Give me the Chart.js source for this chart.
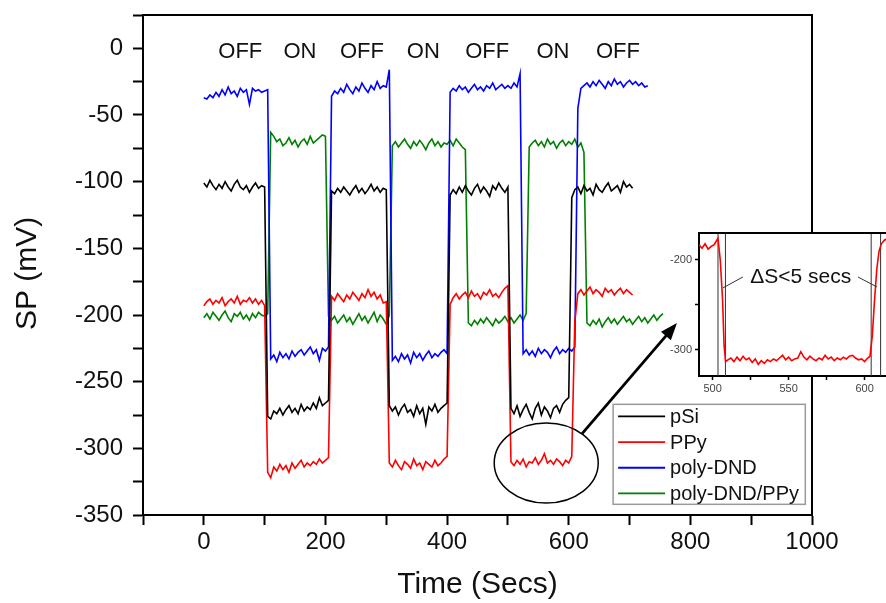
<!DOCTYPE html>
<html>
<head>
<meta charset="utf-8">
<script src="https://cdn.jsdelivr.net/npm/chart.js@4.4.1/dist/chart.umd.min.js"></script>
<style>
  html, body { margin: 0; padding: 0; background: #fff; overflow: hidden; }
  #wrap { position: relative; width: 886px; height: 603px; overflow: hidden; }
  #main { position: absolute; left: 0; top: 0; }
  #inset { position: absolute; left: 650px; top: 225px; }
</style>
</head>
<body>
<div id="wrap">
  <canvas id="main" width="886" height="603"></canvas>
  <canvas id="inset" width="242" height="175"></canvas>
</div>
<script>
const FONT = '"Liberation Sans", Arial, sans-serif'

// sampling times (s), one row per 100 s
const secs = [
  0, 5, 10, 15, 20, 25, 30, 35, 40, 45, 50, 55, 60, 65, 70, 75, 80, 85, 90, 95,
  100, 105, 110, 115, 120, 125, 130, 135, 140, 145, 150, 155, 160, 165, 170, 175, 180, 185, 190, 195,
  200, 205, 210, 215, 220, 225, 230, 235, 240, 245, 250, 255, 260, 265, 270, 275, 280, 285, 290, 295,
  300, 305, 310, 315, 320, 325, 330, 335, 340, 345, 350, 355, 360, 365, 370, 375, 380, 385, 390, 395,
  400, 405, 410, 415, 420, 425, 430, 435, 440, 445, 450, 455, 460, 465, 470, 475, 480, 485, 490, 495,
  500, 505, 510, 515, 520, 525, 530, 535, 540, 545, 550, 555, 560, 565, 570, 575, 580, 585, 590, 595,
  600, 605, 610, 615, 620, 625, 630, 635, 640, 645, 650, 655, 660, 665, 670, 675, 680, 685, 690, 695,
  700, 705, 710, 715, 720, 725, 730, 735, 740, 745, 750, 755
]

const pSi = [
  -101, -104, -99, -103, -106, -102, -105, -100, -104, -107, -102, -99, -104, -106, -103, -108, -104, -101, -105, -103,
  -104, -276, -278, -272, -274, -270, -275, -271, -268, -273, -270, -274, -267, -272, -269, -271, -266, -270, -262, -268,
  -266, -264, -107, -109, -105, -108, -104, -107, -110, -106, -103, -108, -105, -109, -106, -102, -107, -104, -108, -105,
  -106, -268, -272, -269, -275, -270, -267, -273, -271, -276, -268, -274, -270, -282, -269, -272, -267, -273, -270, -268,
  -266, -110, -106, -109, -104, -108, -103, -107, -110, -105, -102, -108, -104, -107, -111, -103, -106, -101, -105, -108,
  -104, -270, -274, -268, -276, -271, -267, -273, -278, -270, -266, -275, -269, -272, -277, -270, -268, -273, -267, -264,
  -262, -112, -106, -104, -109, -103, -107, -105, -110, -102, -106, -108, -104, -101, -107, -105, -103, -108, -100, -104,
  -102, -105, null, null, null, null, null, null, null, null, null, null
]

const PPy = [
  -193, -190, -188, -192, -189, -191, -187, -193, -190, -188, -191, -186, -192, -189, -190, -187, -191, -188, -192, -189,
  -193, -318, -322, -314, -317, -312, -316, -313, -318, -311, -315, -312, -309, -314, -311, -313, -310, -312, -308, -311,
  -309, -307, -186, -189, -184, -187, -190, -185, -188, -183, -186, -189, -184, -187, -181, -186, -183, -188, -185, -191,
  -190, -311, -314, -309, -313, -316, -310, -312, -315, -308, -313, -311, -316, -310, -312, -314, -309, -313, -311, -308,
  -306, -192, -187, -184, -188, -185, -183, -187, -182, -186, -184, -188, -183, -185, -181, -186, -184, -187, -183, -180,
  -178, -310, -313, -309, -312, -308, -314, -310, -311, -307, -312, -309, -304, -311, -309, -312, -308, -310, -313, -309,
  -311, -306, -205, -184, -181, -185, -182, -179, -184, -181, -183, -186, -180, -183, -181, -185, -182, -180, -184, -181,
  -183, -185, null, null, null, null, null, null, null, null, null, null
]

const polyDND = [
  -37, -38, -35, -37, -33, -36, -31, -35, -29, -34, -32, -36, -30, -33, -31, -42, -30, -32, -31, -33,
  -32, -31, -233, -230, -235, -228, -232, -229, -233, -227, -231, -228, -226, -230, -227, -224, -229, -226, -234, -225,
  -227, -224, -36, -32, -34, -30, -33, -27, -31, -34, -29, -32, -26, -30, -33, -28, -31, -25, -30, -28,
  -29, -16, -234, -231, -235, -229, -233, -230, -236, -228, -232, -229, -234, -230, -227, -232, -229, -231, -228, -226,
  -229, -33, -30, -32, -28, -31, -29, -33, -30, -27, -31, -29, -32, -28, -30, -26, -31, -29, -27, -30,
  -28, -30, -26, -29, -19, -229, -226, -230, -227, -231, -225, -229, -226, -228, -232, -227, -224, -229, -226, -228,
  -225, -227, -224, -45, -30, -28, -26, -29, -25, -28, -24, -27, -30, -25, -28, -23, -27, -25, -29, -26,
  -24, -27, -25, -28, -26, -29, -28, null, null, null, null, null
]

const polyDNDPPy = [
  -202, -199, -203, -198, -201, -204, -200, -197, -202, -205, -199, -201, -198, -203, -200, -204, -199, -202, -198, -200,
  -201, -199, -63, -66, -70, -68, -73, -71, -67, -72, -69, -74, -70, -68, -72, -66, -71, -69, -67, -65,
  -66, -201, -204, -201, -206, -203, -200, -205, -202, -207, -203, -199, -204, -201, -206, -202, -198, -205, -200, -203,
  -207, -200, -73, -70, -74, -71, -68, -72, -75, -70, -73, -69, -72, -76, -71, -68, -73, -70, -74, -71,
  -72, -69, -73, -68, -71, -74, -76, -206, -208, -204, -207, -203, -206, -202, -205, -208, -203, -206, -204, -201,
  -205, -202, -206, -203, -200, -204, -199, -74, -71, -69, -73, -70, -74, -68, -72, -70, -75, -71, -69, -73,
  -70, -72, -68, -74, -71, -78, -206, -208, -204, -207, -203, -209, -205, -202, -206, -203, -207, -204, -201, -205,
  -203, -207, -204, -201, -205, -202, -206, -203, -200, -204, -201, -199
]

const seriesNames = ['pSi', 'PPy', 'poly-DND', 'poly-DND/PPy']
const seriesColors = ['#000000', '#ff0000', '#0000ff', '#008000']

const stateLabels = ['OFF', 'ON', 'OFF', 'ON', 'OFF', 'ON', 'OFF']
const stateSecs = [60, 158, 260, 361, 466, 574, 681]
const stateLevel = -3

// inset: PPy zoomed on the 500-610 s step
const insetSecs = [
  491, 493, 495, 497, 499, 501, 502, 503.5, 505, 506.5, 507.5, 508.5,
  510, 512, 514, 516, 518, 520, 522, 524, 526, 528, 530, 532, 534, 536, 538, 540,
  542, 544, 546, 548, 550, 552, 554, 556, 558, 560, 562, 564, 566, 568, 570, 572,
  574, 576, 578, 580, 582, 584, 586, 588, 590, 592, 594, 596, 598, 600, 602,
  603.5, 605, 606.5, 608, 609.5, 611, 613, 615
]
const insetPPy = [
  -183, -187, -182, -188, -185, -183, -180, -176, -200, -244, -295, -313,
  -311, -309, -313, -308, -312, -307, -311, -309, -314, -310, -316, -312, -315, -311, -313, -310,
  -312, -309, -306, -311, -308, -312, -310, -309, -302, -308, -311, -307, -310, -312, -309, -311,
  -306, -310, -308, -312, -309, -311, -308, -310, -307, -306, -309, -311, -310, -313, -309,
  -307, -285, -245, -210, -190, -182, -178, -176
]
const insetMarks = [503.5, 508.4, 604.3, 610.5]

function points(xs, ys) {
  return xs.map((t, i) => ({ x: t, y: ys[i] }))
}

const mainAnnotations = {
  id: 'mainAnnotations',
  afterDatasetsDraw(chart) {
    const { ctx, chartArea: a, scales: { x, y } } = chart
    ctx.save()
    // top and right frame
    ctx.strokeStyle = '#000'
    ctx.lineWidth = 2
    ctx.beginPath()
    ctx.moveTo(a.left, a.top)
    ctx.lineTo(a.right, a.top)
    ctx.lineTo(a.right, a.bottom)
    ctx.stroke()

    // OFF / ON labels
    ctx.font = '22px ' + FONT
    ctx.fillStyle = '#111'
    ctx.textAlign = 'center'
    ctx.textBaseline = 'middle'
    stateLabels.forEach((s, i) => {
      ctx.fillText(s, x.getPixelForValue(stateSecs[i]), y.getPixelForValue(stateLevel))
    })

    // ellipse round the PPy step
    const cx = x.getPixelForValue(563), cy = y.getPixelForValue(-311)
    const rx = x.getPixelForValue(563 + 85.5) - cx
    const ry = y.getPixelForValue(-311 - 30) - cy
    ctx.lineWidth = 1.5
    ctx.beginPath()
    ctx.ellipse(cx, cy, rx, ry, 0, 0, Math.PI * 2)
    ctx.stroke()

    // arrow towards the inset
    const x0 = x.getPixelForValue(622), y0 = y.getPixelForValue(-289)
    const x1 = x.getPixelForValue(778), y1 = y.getPixelForValue(-206)
    const ang = Math.atan2(y1 - y0, x1 - x0)
    ctx.lineWidth = 2.8
    ctx.beginPath()
    ctx.moveTo(x0, y0)
    ctx.lineTo(x1 - 10 * Math.cos(ang), y1 - 10 * Math.sin(ang))
    ctx.stroke()
    ctx.fillStyle = '#000'
    ctx.beginPath()
    ctx.moveTo(x1, y1)
    ctx.lineTo(x1 - 17 * Math.cos(ang) + 6.5 * Math.sin(ang), y1 - 17 * Math.sin(ang) - 6.5 * Math.cos(ang))
    ctx.lineTo(x1 - 17 * Math.cos(ang) - 6.5 * Math.sin(ang), y1 - 17 * Math.sin(ang) + 6.5 * Math.cos(ang))
    ctx.closePath()
    ctx.fill()

    // legend box
    const lx = x.getPixelForValue(673), rxp = x.getPixelForValue(989)
    const ty = y.getPixelForValue(-267), by = y.getPixelForValue(-342)
    ctx.fillStyle = '#fff'
    ctx.fillRect(lx, ty, rxp - lx, by - ty)
    ctx.strokeStyle = '#9a9a9a'
    ctx.lineWidth = 1.5
    ctx.strokeRect(lx, ty, rxp - lx, by - ty)
    ctx.font = '20px ' + FONT
    ctx.textAlign = 'left'
    chart.data.datasets.forEach((d, i) => {
      const ly = ty + 12 + i * 25.7
      ctx.strokeStyle = d.borderColor
      ctx.lineWidth = 1.8
      ctx.beginPath()
      ctx.moveTo(lx + 5, ly)
      ctx.lineTo(lx + 52, ly)
      ctx.stroke()
      ctx.fillStyle = '#111'
      ctx.fillText(d.label, lx + 57, ly + 1)
    })
    ctx.restore()
  }
}

new Chart(document.getElementById('main'), {
  type: 'line',
  data: {
    datasets: [pSi, PPy, polyDND, polyDNDPPy].map((vals, i) => ({
      label: seriesNames[i],
      data: points(secs, vals),
      borderColor: seriesColors[i],
      borderWidth: 1.6,
      pointRadius: 0,
      tension: 0,
      spanGaps: false
    }))
  },
  options: {
    responsive: false,
    animation: false,
    layout: { padding: { top: 15, right: 74, bottom: 0, left: 0 } },
    plugins: { legend: { display: false }, tooltip: { enabled: false } },
    scales: {
      x: {
        type: 'linear',
        min: -100,
        max: 1000,
        afterFit: s => { s.height = 88; s.paddingLeft = 0; s.paddingRight = 0 },
        ticks: {
          stepSize: 100,
          autoSkip: false,
          maxRotation: 0,
          padding: 3,
          color: '#111',
          font: { family: FONT, size: 24 },
          callback: v => (v % 200 === 0 ? v : '')
        },
        grid: { drawOnChartArea: false, tickLength: 10, tickColor: '#000', tickWidth: 2 },
        border: { color: '#000', width: 2 },
        title: {
          display: true,
          text: 'Time (Secs)',
          color: '#111',
          font: { family: FONT, size: 30 },
          padding: { top: 0, bottom: 0 }
        }
      },
      y: {
        min: -350,
        max: 25,
        afterFit: s => { s.width = 143; s.paddingTop = 0; s.paddingBottom = 0 },
        ticks: {
          stepSize: 25,
          autoSkip: false,
          padding: 10,
          color: '#111',
          font: { family: FONT, size: 24 },
          callback: v => (v % 50 === 0 ? v : '')
        },
        grid: { drawOnChartArea: false, tickLength: 10, tickColor: '#000', tickWidth: 2 },
        border: { color: '#000', width: 2 },
        title: {
          display: true,
          text: 'SP (mV)  ',
          color: '#111',
          font: { family: FONT, size: 30 },
          padding: { top: 10, bottom: 0 }
        }
      }
    }
  },
  plugins: [mainAnnotations]
})

const insetDecor = {
  id: 'insetDecor',
  beforeDraw(chart) {
    const { ctx, chartArea: a } = chart
    ctx.save()
    ctx.fillStyle = '#fff'
    ctx.fillRect(a.left, a.top, a.right - a.left, a.bottom - a.top)
    ctx.restore()
  },
  afterDatasetsDraw(chart) {
    const { ctx, chartArea: a, scales: { x, y } } = chart
    ctx.save()
    ctx.strokeStyle = '#000'
    ctx.lineWidth = 2
    ctx.beginPath()
    ctx.moveTo(a.left, a.top)
    ctx.lineTo(a.right, a.top)
    ctx.lineTo(a.right, a.bottom)
    ctx.stroke()

    ctx.strokeStyle = '#333'
    ctx.lineWidth = 1
    ctx.beginPath()
    ctx.moveTo(x.getPixelForValue(519.9), y.getPixelForValue(-218.9))
    ctx.lineTo(x.getPixelForValue(506.8), y.getPixelForValue(-231))
    ctx.moveTo(x.getPixelForValue(595.6), y.getPixelForValue(-218.9))
    ctx.lineTo(x.getPixelForValue(608.1), y.getPixelForValue(-230))
    ctx.stroke()

    ctx.font = '21px ' + FONT
    ctx.fillStyle = '#111'
    ctx.textAlign = 'center'
    ctx.textBaseline = 'middle'
    ctx.fillText('\u0394S<5 secs', x.getPixelForValue(557.9), y.getPixelForValue(-218.6))
    ctx.restore()
  }
}

new Chart(document.getElementById('inset'), {
  type: 'line',
  data: {
    datasets: [
      {
        label: 'PPy',
        data: points(insetSecs, insetPPy),
        borderColor: '#ff0000',
        borderWidth: 1.6,
        pointRadius: 0,
        tension: 0
      }
    ].concat(insetMarks.map(t => ({
      data: [{ x: t, y: -329 }, { x: t, y: -170 }],
      borderColor: '#333',
      borderWidth: 1,
      pointRadius: 0
    })))
  },
  options: {
    responsive: false,
    animation: false,
    layout: { padding: { top: 8, right: 0, bottom: 0, left: 0 } },
    plugins: { legend: { display: false }, tooltip: { enabled: false } },
    scales: {
      x: {
        type: 'linear',
        min: 491,
        max: 618,
        afterFit: s => { s.height = 24; s.paddingLeft = 0; s.paddingRight = 0 },
        ticks: {
          stepSize: 25,
          includeBounds: false,
          autoSkip: false,
          maxRotation: 0,
          padding: 2,
          color: '#444',
          font: { family: FONT, size: 11 },
          callback: v => (v % 50 === 0 ? v : '')
        },
        grid: { drawOnChartArea: false, tickLength: 4, tickColor: '#000', tickWidth: 1.5 },
        border: { color: '#000', width: 2 }
      },
      y: {
        min: -329,
        max: -170,
        afterFit: s => { s.width = 49; s.paddingTop = 0; s.paddingBottom = 0 },
        ticks: {
          stepSize: 50,
          includeBounds: false,
          autoSkip: false,
          padding: 3,
          color: '#444',
          font: { family: FONT, size: 11 },
          callback: v => (v % 100 === 0 ? v : '')
        },
        grid: { drawOnChartArea: false, tickLength: 4, tickColor: '#000', tickWidth: 1.5 },
        border: { color: '#000', width: 2 }
      }
    }
  },
  plugins: [insetDecor]
})
</script>
</body>
</html>
